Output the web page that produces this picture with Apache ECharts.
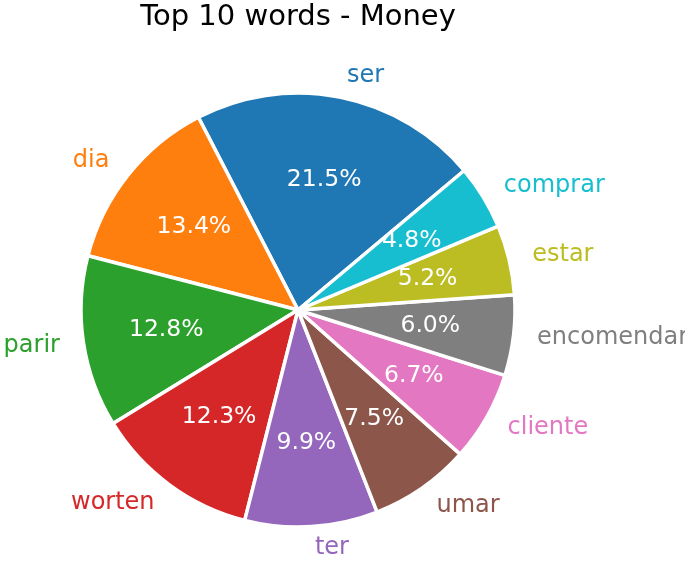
<!DOCTYPE html>
<html>
<head>
<meta charset="utf-8">
<script src="https://cdn.jsdelivr.net/npm/echarts@6/dist/echarts.min.js"></script>
<style>
  html, body { margin: 0; padding: 0; background: #fff; }
  #chart { width: 685px; height: 563px; }
</style>
</head>
<body>
<div id="chart"></div>
<script>
// Word shares for the "Money" topic (percent)
const words = ['ser', 'dia', 'parir', 'worten', 'ter', 'umar', 'cliente', 'encomendar', 'estar', 'comprar'];
const shares = [21.5, 13.4, 12.8, 12.3, 9.9, 7.5, 6.7, 6.0, 5.2, 4.8];
const palette = ['#1f77b4', '#ff7f0e', '#2ca02c', '#d62728', '#9467bd',
                 '#8c564b', '#e377c2', '#7f7f7f', '#bcbd22', '#17becf'];

const FONT = 'DejaVu Sans';
const CX = 298, CY = 310, R = 217;

const pieData = words.map((w, i) => ({
  name: w,
  value: shares[i],
  itemStyle: { color: palette[i] },
  label: { color: palette[i] }
}));

const chart = echarts.init(document.getElementById('chart'), null, { renderer: 'canvas' });
chart.setOption({
  animation: false,
  backgroundColor: '#ffffff',
  title: {
    text: 'Top 10 words - Money',
    left: CX,
    textAlign: 'center',
    top: 3,
    padding: 0,
    textStyle: { fontFamily: FONT, fontSize: 29, fontWeight: 'normal', color: '#000' }
  },
  series: [
    {
      // wedges with the word names outside
      type: 'pie',
      center: [CX, CY],
      radius: [0, R],
      startAngle: 40,
      clockwise: false,
      avoidLabelOverlap: false,
      silent: true,
      itemStyle: { borderColor: '#ffffff', borderWidth: 3.5 },
      label: {
        show: true,
        position: 'outside',
        fontFamily: FONT,
        fontSize: 24,
        distanceToLabelLine: 2,
        formatter: p => p.name
      },
      labelLine: { show: false, length: R * 0.1, length2: 0 },
      data: pieData
    },
    {
      // transparent ring carrying the percentage labels at 0.6 r
      type: 'pie',
      center: [CX, CY],
      radius: [R * 0.2, R],
      startAngle: 40,
      clockwise: false,
      avoidLabelOverlap: false,
      silent: true,
      itemStyle: { color: 'rgba(0,0,0,0)', borderWidth: 0 },
      label: {
        show: true,
        position: 'inside',
        fontFamily: FONT,
        fontSize: 23.5,
        color: '#ffffff',
        formatter: p => p.value.toFixed(1) + '%'
      },
      labelLine: { show: false },
      data: words.map((w, i) => ({ name: w, value: shares[i] }))
    }
  ]
});
</script>
</body>
</html>
